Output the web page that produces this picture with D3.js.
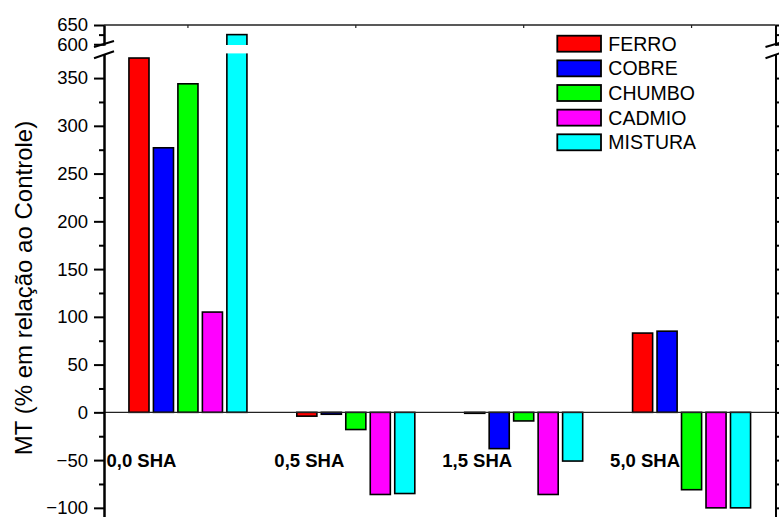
<!DOCTYPE html>
<html>
<head>
<meta charset="utf-8">
<script src="https://cdn.jsdelivr.net/npm/d3@7"></script>
<style>
  html, body { margin: 0; padding: 0; background: #fff; }
  svg { display: block; font-family: Arial, "Liberation Sans", sans-serif; }
</style>
</head>
<body>
<svg id="chart" width="779" height="517"></svg>
<script>
// ---- data ----
const categories = ["0,0 SHA", "0,5 SHA", "1,5 SHA", "5,0 SHA"];
const seriesNames = ["FERRO", "COBRE", "CHUMBO", "CADMIO", "MISTURA"];
const seriesColors = ["#ff0000", "#0000ff", "#00ff00", "#ff00ff", "#00ffff"];
const ferro   = [371, -4, -1, 83];
const cobre   = [277, -2, -38, 85];
const chumbo  = [344, -18, -9, -81];
const cadmio  = [105, -86, -86, -100];
const mistura = [625, -85, -51, -100];
const seriesValues = [ferro, cobre, chumbo, cadmio, mistura];
const lowerMajorTicks = [-100, -50, 0, 50, 100, 150, 200, 250, 300, 350];
const lowerMinorTicks = [-75, -25, 25, 75, 125, 175, 225, 275, 325];
const upperMajorTicks = [600, 650];
const upperMinorTicks = [625];
const yTitle = "MT (% em relação ao Controle)";

// ---- layout ----
const W = 779, H = 517;
const xL = 104, xR = 775.5;
const svg = d3.select("#chart");

// broken y axis: two linear segments
const lowDomain = [-110, 375], highDomain = [598, 650];
const yLow = d3.scaleLinear().domain(lowDomain).range([517.4, 54.2]);
const yHigh = d3.scaleLinear().domain(highDomain).range([45, 25]);
const y = v => v > lowDomain[1] ? yHigh(Math.max(v, highDomain[0])) : yLow(v);
const breakTop = 45, breakBottom = 54.2;

const x = d3.scaleBand().domain(categories).range([xL, xR]).padding(0);
const xInner = d3.scaleBand().domain(seriesNames).range([-59, 59]).paddingInner(0.18).paddingOuter(0);

// ---- bars ----
const barData = [];
categories.forEach((c, ci) => {
  seriesNames.forEach((s, si) => {
    barData.push({cat: c, name: s, value: seriesValues[si][ci], color: seriesColors[si]});
  });
});

const gBars = svg.append("g");
gBars.selectAll("rect").data(barData).enter().append("rect")
  .attr("x", d => x(d.cat) + x.bandwidth() / 2 + xInner(d.name))
  .attr("width", xInner.bandwidth())
  .attr("y", d => Math.min(y(d.value), y(0)))
  .attr("height", d => Math.max(0.8, Math.abs(y(d.value) - y(0))))
  .attr("fill", d => d.color)
  .attr("stroke", "#000")
  .attr("stroke-width", 1.6);

// zero line
svg.append("line").attr("x1", xL).attr("x2", xR).attr("y1", y(0)).attr("y2", y(0))
  .attr("stroke", "#222").attr("stroke-width", 1.2);

// top frame
svg.append("line").attr("x1", xL).attr("x2", xR).attr("y1", 25).attr("y2", 25)
  .attr("stroke", "#222").attr("stroke-width", 1.5);
svg.append("g").selectAll("line").data(categories).enter().append("line")
  .attr("x1", d => x(d) + x.bandwidth() / 2).attr("x2", d => x(d) + x.bandwidth() / 2)
  .attr("y1", 25).attr("y2", 28).attr("stroke", "#222").attr("stroke-width", 1.2);

// break gap across the plot
svg.append("rect").attr("x", xL - 12).attr("width", xR - xL + 24)
  .attr("y", breakTop).attr("height", breakBottom - breakTop - 0.8).attr("fill", "#fff");

// ---- axes ----
function styleAxis(g) {
  g.selectAll("path.domain").attr("stroke", "#000").attr("stroke-width", 2);
  g.selectAll(".tick line").attr("stroke", "#000").attr("stroke-width", 2);
  g.selectAll(".tick text").attr("font-size", "18.5px").attr("fill", "#000")
    .attr("font-family", "Arial, 'Liberation Sans', sans-serif");
}
const fmt = d3.format("d");
// left
svg.append("g").attr("transform", `translate(${xL},0)`)
  .call(d3.axisLeft(yLow).tickValues(lowerMajorTicks).tickFormat(fmt).tickSize(10).tickSizeOuter(0).tickPadding(6))
  .call(styleAxis);
svg.append("g").attr("transform", `translate(${xL},0)`)
  .call(d3.axisLeft(yLow).tickValues(lowerMinorTicks).tickFormat("").tickSize(5).tickSizeOuter(0))
  .call(styleAxis);
svg.append("g").attr("transform", `translate(${xL},0)`)
  .call(d3.axisLeft(yHigh).tickValues(upperMajorTicks).tickFormat(fmt).tickSize(10).tickSizeOuter(0).tickPadding(6))
  .call(styleAxis);
svg.append("g").attr("transform", `translate(${xL},0)`)
  .call(d3.axisLeft(yHigh).tickValues(upperMinorTicks).tickFormat("").tickSize(5).tickSizeOuter(0))
  .call(styleAxis);
// right
[[yLow, lowerMajorTicks, 10], [yLow, lowerMinorTicks, 5], [yHigh, upperMajorTicks, 10], [yHigh, upperMinorTicks, 5]]
  .forEach(([sc, tv, ts]) => {
    svg.append("g").attr("transform", `translate(${xR},0)`)
      .call(d3.axisRight(sc).tickValues(tv).tickFormat("").tickSize(ts).tickSizeOuter(0))
      .call(styleAxis);
  });

// break slashes
[xL, xR].forEach(ax => {
  [[breakTop + 2, breakTop - 4], [breakBottom + 4, breakBottom - 3]].forEach(([ya, yb]) => {
    svg.append("line").attr("x1", ax - 10).attr("y1", ya).attr("x2", ax + 10).attr("y2", yb)
      .attr("stroke", "#000").attr("stroke-width", 2);
  });
});

// category labels
svg.append("g").selectAll("text").data(categories).enter().append("text")
  .attr("x", d => x(d) + x.bandwidth() / 2 - 46.5)
  .attr("y", 467.3)
  .attr("text-anchor", "middle")
  .attr("font-size", "18.5px").attr("font-weight", "bold").attr("fill", "#000")
  .text(d => d);

// y title
svg.append("text")
  .attr("transform", "translate(32,288) rotate(-90)")
  .attr("text-anchor", "middle")
  .attr("font-size", "24px").attr("fill", "#000")
  .text(yTitle);

// legend
const legend = svg.append("g").selectAll("g").data(seriesNames).enter().append("g")
  .attr("transform", (d, i) => `translate(557.3,${35.7 + i * 24.65})`);
legend.append("rect").attr("width", 43.7).attr("height", 16)
  .attr("fill", (d, i) => seriesColors[i]).attr("stroke", "#000").attr("stroke-width", 1.8);
legend.append("text").attr("x", 51).attr("y", 15)
  .attr("font-size", "19.5px").attr("fill", "#000").text(d => d);
</script>
</body>
</html>
